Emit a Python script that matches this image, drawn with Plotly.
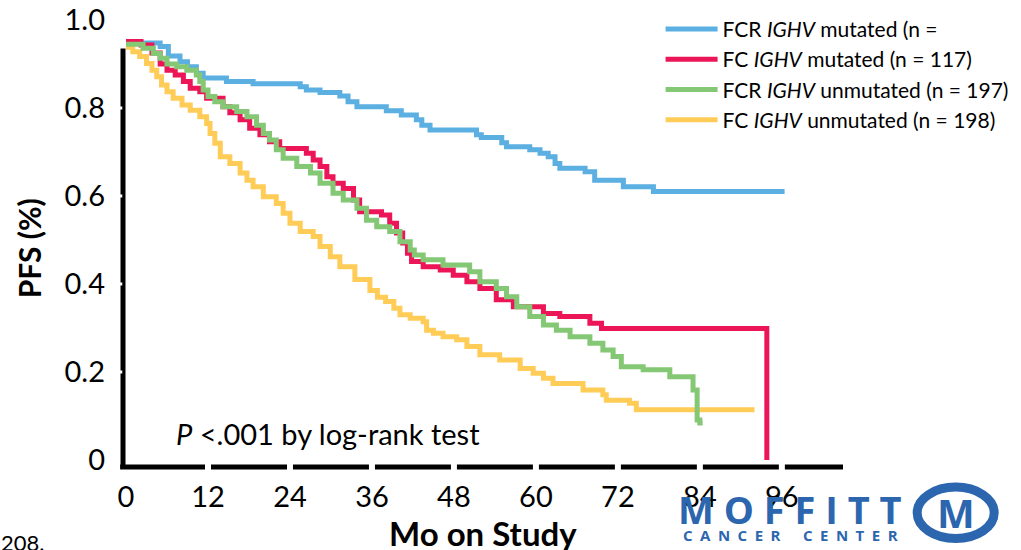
import plotly.graph_objects as go

# ---------------- data ----------------
fcr_mut_t = [0, 5, 6.2, 7.9, 9, 10.3, 11.3, 14.7, 18.6, 25.5, 26.4, 28.4, 31.3, 32.5, 33.8, 38.1, 40.3,
             42.5, 43.3, 44.5, 51.3, 52, 55, 55.7, 59.1, 60.6, 61.8, 62.8, 63.5, 67.2, 68.6, 72.8, 77.2, 96.4]
fcr_mut_s = [0.948, 0.94, 0.918, 0.905, 0.894, 0.879, 0.868, 0.86, 0.855, 0.848, 0.841, 0.835, 0.827, 0.814,
             0.803, 0.794, 0.784, 0.773, 0.761, 0.75, 0.739, 0.733, 0.721, 0.712, 0.705, 0.697, 0.689, 0.674,
             0.663, 0.655, 0.636, 0.621, 0.61, 0.61]

fc_mut_t = [0, 2.2, 3.8, 5, 6, 7.2, 8.4, 9.4, 10.8, 11.8, 14.2, 15.2, 16.7, 18.1, 19.6, 21, 22.5, 26.4, 27.4,
            28.4, 29.4, 30.3, 31.8, 33.3, 34.2, 37.4, 38.6, 39.6, 40.5, 41.2, 41.8, 43.5, 46, 47.9, 49.9, 51.8,
            54.2, 56.7, 61.1, 63.5, 67.9, 69.6, 93.8]
fc_mut_s = [0.951, 0.943, 0.925, 0.9, 0.886, 0.875, 0.86, 0.845, 0.837, 0.822, 0.803, 0.789, 0.773, 0.754,
            0.739, 0.723, 0.708, 0.697, 0.682, 0.667, 0.644, 0.629, 0.617, 0.591, 0.564, 0.557, 0.538, 0.516,
            0.493, 0.47, 0.451, 0.439, 0.432, 0.42, 0.405, 0.39, 0.364, 0.348, 0.333, 0.326, 0.311, 0.299, 0.0]

fcr_unm_t = [0, 2.5, 4, 5, 6, 7.4, 8.9, 10.3, 10.8, 11.3, 12, 13, 14.2, 16.2, 17.7, 19.1, 20.1, 21, 22, 23,
             25, 27, 28.4, 30.3, 31.8, 33.8, 35.2, 36.7, 38.6, 40.1, 41.6, 42.2, 43.5, 46.4, 50.3, 51.8, 54.2,
             55.7, 57.2, 59.1, 61.1, 63, 65, 67.9, 69.8, 71.3, 72.5, 75.7, 79.6, 83.0, 83.6, 84.0, 84.4]
fcr_unm_s = [0.945, 0.936, 0.924, 0.913, 0.9, 0.894, 0.886, 0.875, 0.86, 0.841, 0.826, 0.814, 0.803, 0.792,
             0.78, 0.761, 0.742, 0.727, 0.705, 0.686, 0.667, 0.652, 0.629, 0.606, 0.591, 0.572, 0.545, 0.53,
             0.519, 0.496, 0.477, 0.466, 0.455, 0.443, 0.428, 0.405, 0.39, 0.371, 0.348, 0.326, 0.307, 0.295,
             0.28, 0.265, 0.25, 0.235, 0.212, 0.205, 0.189, 0.159, 0.091, 0.084, 0.084]

fc_unm_t = [0, 1, 2, 3, 3.8, 4.5, 5.2, 6, 6.9, 8.2, 9.4, 10.8, 11.8, 12.3, 13, 13.8, 15.2, 16.7, 17.7, 18.6,
            20.1, 22, 23, 24, 25.5, 27.4, 28.4, 29.9, 31.3, 33.5, 35.7, 36.8, 38, 39.2, 40.1, 41.6, 43.5, 44,
            45, 46.4, 48.4, 49.9, 51.8, 54.7, 57.7, 59.6, 61.1, 62.5, 66.9, 69.8, 70.3, 73.7, 74.7, 92]
fc_unm_s = [0.938, 0.928, 0.917, 0.901, 0.886, 0.871, 0.852, 0.837, 0.822, 0.807, 0.795, 0.78, 0.765, 0.742,
            0.72, 0.689, 0.674, 0.652, 0.636, 0.621, 0.598, 0.583, 0.561, 0.538, 0.519, 0.508, 0.485, 0.462,
            0.439, 0.41, 0.385, 0.37, 0.36, 0.345, 0.33, 0.322, 0.314, 0.295, 0.288, 0.28, 0.273, 0.258,
            0.239, 0.227, 0.208, 0.197, 0.186, 0.174, 0.159, 0.148, 0.136, 0.129, 0.114, 0.114]

series_names = ["FCR <i>IGHV</i> mutated (n =",
                "FC <i>IGHV</i> mutated (n = 117)",
                "FCR <i>IGHV</i> unmutated (n = 197)",
                "FC <i>IGHV</i> unmutated (n = 198)"]

x_ticks = [0, 12, 24, 36, 48, 60, 72, 84, 96]
y_ticks = [0, 0.2, 0.4, 0.6, 0.8, 1.0]
y_ticktext = ["0", "0.2", "0.4", "0.6", "0.8", "1.0"]

# ---------------- style ----------------
FONT = "Lato, 'Open Sans', sans-serif"
BLUE, RED, GREEN, YELLOW = "#5BAFE1", "#EC1557", "#84C774", "#FFCC57"
LOGO = "#2C66AE"
LW = 5

fig = go.Figure()
draw = [
    (fc_unm_t, fc_unm_s, series_names[3], YELLOW, 4),
    (fcr_mut_t, fcr_mut_s, series_names[0], BLUE, 1),
    (fc_mut_t, fc_mut_s, series_names[1], RED, 2),
    (fcr_unm_t, fcr_unm_s, series_names[2], GREEN, 3),
]
for t, s, name, col, rank in draw:
    fig.add_trace(go.Scatter(x=t, y=s, mode="lines", name=name, line=dict(color=col, width=LW, shape="hv"),
                             legendrank=rank, legendgroup=str(rank)))

L, R, T, B = 123, 178, 20, 83
x_range = [-0.44, 104.95]
y_range = [-0.016, 1.0]

fig.update_layout(
    width=1021, height=550,
    margin=dict(l=L, r=R, t=T, b=B, autoexpand=False),
    paper_bgcolor="white", plot_bgcolor="white",
    font=dict(family=FONT, color="black"),
    showlegend=True,
    legend=dict(xref="container", yref="container", x=0.647, y=0.984, xanchor="left", yanchor="top",
                font=dict(size=21, family=FONT, color="black"), bgcolor="rgba(0,0,0,0)",
                itemwidth=52, tracegroupgap=2, traceorder="normal"),
    xaxis=dict(range=x_range, tickvals=x_ticks, ticktext=[str(v) for v in x_ticks],
               showgrid=False, zeroline=False, showline=False, ticks="",
               tickfont=dict(size=29, family=FONT), ticklabelstandoff=10),
    yaxis=dict(range=y_range, tickvals=y_ticks, ticktext=y_ticktext,
               showgrid=False, zeroline=False, showline=False, ticks="",
               tickfont=dict(size=29, family=FONT), ticklabelstandoff=17),
)

AXIS_TOP = 0.935
shapes = [
    dict(type="line", xref="paper", yref="y", x0=0, x1=0, y0=y_range[0] - 0.006, y1=AXIS_TOP,
         line=dict(color="black", width=5), layer="above"),
    dict(type="line", xref="paper", yref="paper", x0=-0.004, x1=1, y0=0, y1=0,
         line=dict(color="black", width=5), layer="above"),
]
for xv in x_ticks[1:]:
    shapes.append(dict(type="line", xref="x", yref="paper", x0=xv, x1=xv, y0=-0.012, y1=0.012,
                       line=dict(color="white", width=6), layer="above"))
for yv in y_ticks[1:-1]:
    shapes.append(dict(type="line", xref="paper", yref="y", x0=-0.0065, x1=-0.001, y0=yv, y1=yv,
                       line=dict(color="white", width=3), layer="above"))
# logo ring
shapes.append(dict(type="circle", xref="paper", yref="paper", x0=1.103, x1=1.21, y0=-0.045, y1=-0.16,
                   line=dict(color=LOGO, width=9), layer="above"))
fig.update_layout(shapes=shapes)

ann = [
    dict(text="<i>P</i> &lt;.001 by log-rank test", xref="paper", yref="paper", x=0.071, y=0.076,
         xanchor="left", yanchor="middle", showarrow=False, font=dict(size=29, family=FONT)),
    dict(text="<b>PFS (%)</b>", xref="paper", yref="paper", x=-0.13, y=0.49, textangle=-90,
         xanchor="center", yanchor="middle", showarrow=False, font=dict(size=30, family=FONT)),
    dict(text="<b>Mo on Study</b>", xref="paper", yref="paper", x=0.50, y=-0.147,
         xanchor="center", yanchor="middle", showarrow=False, font=dict(size=33, family=FONT)),
    dict(text="208.", xref="paper", yref="paper", x=-0.172, y=-0.168,
         xanchor="left", yanchor="middle", showarrow=False, font=dict(size=22, family=FONT)),
    dict(text="<b>M O F F I T T</b>", xref="paper", yref="paper", x=0.927, y=-0.095,
         xanchor="center", yanchor="middle", showarrow=False,
         font=dict(size=38, family="'Open Sans', sans-serif", color=LOGO)),
    dict(text="<b>" + "\u2002".join("CANCER") + "\u2002\u2002\u2002" + "\u2002".join("CENTER") + "</b>",
         xref="paper", yref="paper", x=0.927, y=-0.152,
         xanchor="center", yanchor="middle", showarrow=False,
         font=dict(size=15, family="'Open Sans', sans-serif", color=LOGO)),
    dict(text="<b>M</b>", xref="paper", yref="paper", x=1.1565, y=-0.1025,
         xanchor="center", yanchor="middle", showarrow=False,
         font=dict(size=40, family="'Open Sans', sans-serif", color=LOGO)),
]
fig.update_layout(annotations=ann)

fig.write_html("out.html")
